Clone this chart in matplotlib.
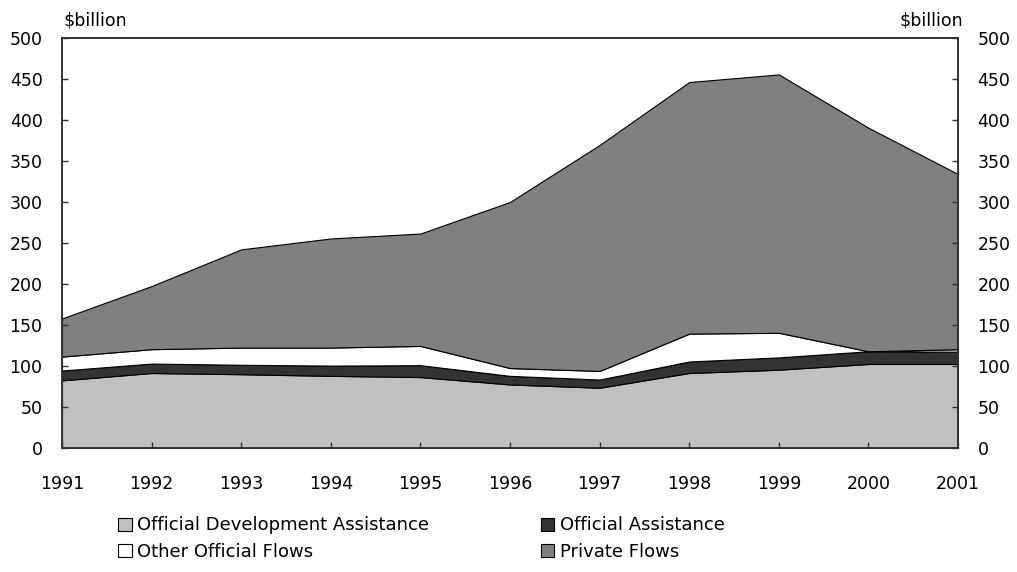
import matplotlib; matplotlib.use("Agg")
import matplotlib.pyplot as plt
from matplotlib.patches import Patch
import numpy as np

years = [1991, 1992, 1993, 1994, 1995, 1996, 1997, 1998, 1999, 2000, 2001]
oda     = [83, 92, 90.5, 88.5, 87, 78, 74, 92, 96, 103, 103]
oa      = [12, 11.5, 11.5, 12.5, 14.5, 10.5, 10, 14, 15, 15.5, 15]
oof     = [17, 17.5, 21, 22, 23.5, 9.5, 10.5, 34, 30, 0, 3]
private = [46.5, 77, 119.7, 133, 137, 202.5, 275.5, 306.7, 315, 272.5, 213.5]
labels = ["Official Development Assistance", "Official Assistance",
          "Other Official Flows", "Private Flows"]
colors = ["#c0c0c0", "#333333", "#ffffff", "#808080"]

plt.rcParams["font.family"] = "DejaVu Sans"
fig = plt.figure(figsize=(10.17, 5.72), dpi=100)
ax = fig.add_axes([0.061, 0.216, 0.881, 0.717])

ax.stackplot(years, oda, oa, oof, private, colors=colors,
             edgecolor="black", linewidth=0.8)
ax.set_xlim(1991, 2001); ax.set_ylim(0, 500)
ax.set_xticks(years)
ax.set_yticks(range(0, 501, 50))
ax.tick_params(axis="both", direction="in", length=4.5, width=1, labelsize=12.5, color="#333333")
ax.tick_params(axis="y", pad=14)
ax.tick_params(axis="x", pad=19)
for s in ax.spines.values():
    s.set_color("#333333"); s.set_linewidth(1.2)

ax2 = ax.twinx()
ax2.set_ylim(0, 500)
ax2.set_yticks(range(0, 501, 50))
ax2.tick_params(axis="y", direction="in", length=4.5, width=1, labelsize=12.5, pad=14, color="#333333")
for s in ax2.spines.values():
    s.set_color("#333333"); s.set_linewidth(1.2)

fig.text(0.062, 0.965, "$billion", fontsize=12.5, ha="left", va="center")
fig.text(0.947, 0.965, "$billion", fontsize=12.5, ha="right", va="center")

handles = [Patch(facecolor=c, edgecolor="black", linewidth=0.8) for c in colors]
order = [0, 2, 1, 3]
fig.legend([handles[i] for i in order], [labels[i] for i in order], ncol=2,
           loc="center left", bbox_to_anchor=(0.116, 0.0586), frameon=False,
           fontsize=13, handlelength=0.75, handleheight=0.75, handletextpad=0.3,
           columnspacing=6.2, labelspacing=0.45, borderpad=0, borderaxespad=0)

fig.savefig("out.png", dpi=100)
